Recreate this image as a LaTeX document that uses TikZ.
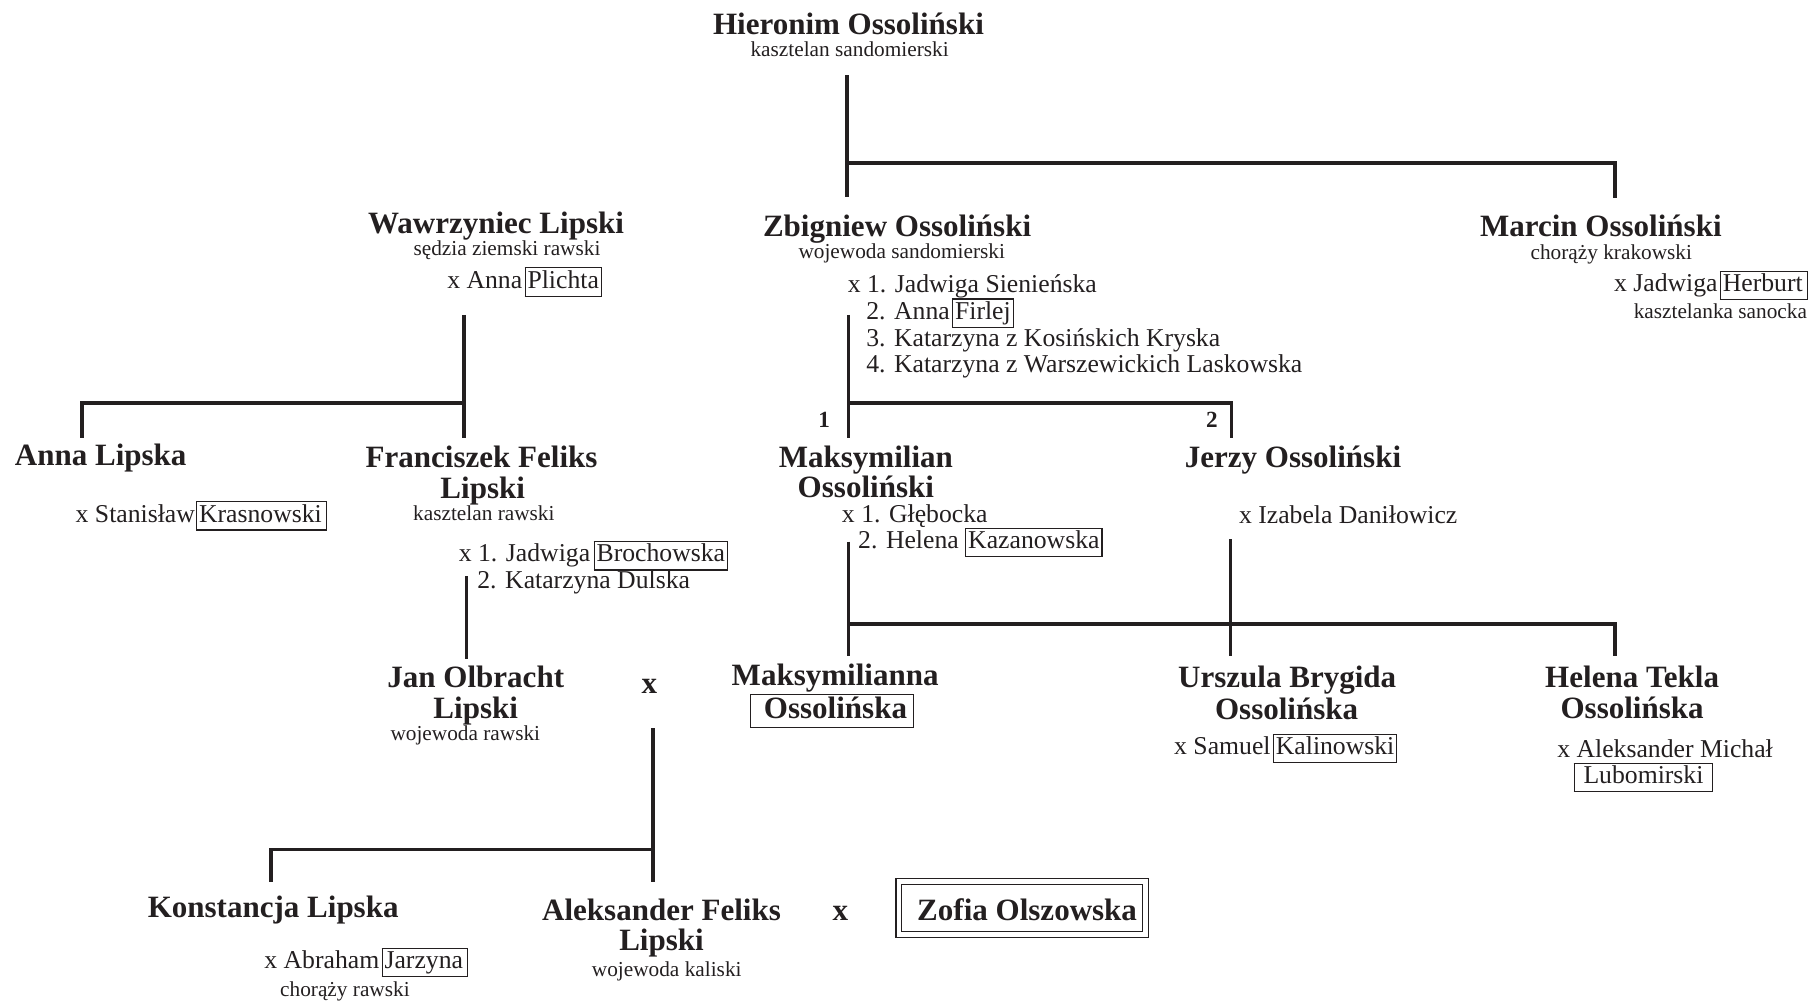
\documentclass[tikz,border=0pt]{standalone}
\usepackage{fontspec}
\setmainfont{Liberation Serif}
\definecolor{ink}{HTML}{231F20}
\newcommand\bx[1]{{\setlength\fboxsep{0.8pt}\setlength\fboxrule{0.5pt}\fbox{\rule[-2.4pt]{0pt}{10.2pt}#1}}}
\newcommand\bxb[1]{{\setlength\fboxsep{0.8pt}\setlength\fboxrule{0.5pt}\fbox{\hspace{4.7pt}#1\rule[-3pt]{0pt}{11.7pt}\hspace{1.9pt}}}}
\tikzset{
  pname/.style={font=\fontsize{13.4}{13.4}\selectfont\bfseries, inner sep=0pt, anchor=base},
  ptitle/.style={font=\fontsize{9.2}{10}\selectfont, inner sep=0pt, anchor=base},
  ptext/.style={font=\fontsize{11.1}{12}\selectfont, inner sep=0pt, anchor=base west},
  pnum/.style={font=\fontsize{10}{10}\selectfont\bfseries, inner sep=0pt, anchor=base},
  tree/.style={line width=1.6pt, draw=ink},
}
\begin{document}
\begin{tikzpicture}[x=0.5pt,y=-0.5pt,text=ink]
\useasboundingbox (0,0) rectangle (1568,867);

% ---------- Generation 1
\node[pname] (hier) at (733,30) {Hieronim Ossoliński};
\node[ptitle] (hiert) at (734,48.5) {kasztelan sandomierski};

% ---------- Generation 2
\node[pname] (zbig) at (775,204.5) {Zbigniew Ossoliński};
\node[ptitle] (zbigt) at (779,223.5) {wojewoda sandomierski};
\node[ptext] (zbm1) at (732,253) {x 1. Jadwiga Sienieńska};
\node[ptext] (zbm2) at (748,276) {2. Anna\hspace{1pt}\bx{Firlej}};
\node[ptext] (zbm3) at (748,299.5) {3. Katarzyna z Kosińskich Kryska};
\node[ptext] (zbm4) at (748,322) {4. Katarzyna z Warszewickich Laskowska};

\node[pname] (marc) at (1383,204) {Marcin Ossoliński};
\node[ptitle] (marct) at (1392,224.5) {chorąży krakowski};
\node[ptext] (marcm) at (1394,252) {x Jadwiga\hspace{1pt}\bx{Herburt\hspace{1pt}}};
\node[ptitle, anchor=base west] (marcmt) at (1411,275) {kasztelanka sanocka};

\node[pname] (wawr) at (428.5,202) {Wawrzyniec Lipski};
\node[ptitle] (wawrt) at (438,220.5) {sędzia ziemski rawski};
\node[ptext] (wawrm) at (386,249) {x Anna\hspace{1pt}\bx{Plichta}};

% ---------- Generation 3
\node[pname] (anna) at (87,402) {Anna Lipska};
\node[ptext] (annam) at (65,451) {x Stanisław\hspace{0.5pt}\bx{Krasnowski\hspace{1pt}}};

\node[pname] (fran1) at (416,403.5) {Franciszek Feliks};
\node[pname] (fran2) at (417,430.5) {Lipski};
\node[ptitle] (frant) at (418,449.5) {kasztelan rawski};
\node[ptext] (franm1) at (396,485.5) {x 1. Jadwiga\hspace{1.5pt}\bx{Brochowska}};
\node[ptext] (franm2) at (412,508) {2. Katarzyna Dulska};

\node[pnum] (n1) at (712,369) {1};
\node[pnum] (n2) at (1047,369) {2};

\node[pname] (maks1) at (748,403.5) {Maksymilian};
\node[pname] (maks2) at (748,429.5) {Ossoliński};
\node[ptext] (maksm1) at (727,451) {x 1. Głębocka};
\node[ptext] (maksm2) at (741,474) {2. Helena \bx{Kazanowska}};

\node[pname] (jerzy) at (1117,403.5) {Jerzy Ossoliński};
\node[ptext] (jerzym) at (1070,452) {x Izabela Daniłowicz};

% ---------- Generation 4
\node[pname] (jan1) at (411,594) {Jan Olbracht};
\node[pname] (jan2) at (411,620.5) {Lipski};
\node[ptitle] (jant) at (402,639.5) {wojewoda rawski};
\node[pname] (janx) at (561,599) {x};

\node[pname] (mna1) at (721.5,592) {Maksymilianna};
\node[pname] (mna2) at (719,620.5) {\bxb{Ossolińska}};

\node[pname] (ursz1) at (1112,593.5) {Urszula Brygida};
\node[pname] (ursz2) at (1111.5,622) {Ossolińska};
\node[ptext] (urszm) at (1014,652) {x Samuel\hspace{1pt}\bx{Kalinowski}};

\node[pname] (hel1) at (1410,593.5) {Helena Tekla};
\node[pname] (hel2) at (1410,620.5) {Ossolińska};
\node[ptext] (helm1) at (1345,654) {x Aleksander Michał};
\node[ptext] (helm2) at (1359,677) {\bx{\hspace{3pt}Lubomirski\hspace{3pt}}};

% ---------- Generation 5
\node[pname] (kons) at (236,793) {Konstancja Lipska};
\node[ptext] (konsm) at (228,837) {x Abraham\hspace{1pt}\bx{Jarzyna\hspace{1pt}}};
\node[ptitle] (konsmt) at (298,860.5) {chorąży rawski};

\node[pname] (alek1) at (571.5,795) {Aleksander Feliks};
\node[pname] (alek2) at (571.5,821) {Lipski};
\node[ptitle] (alekt) at (576,844) {wojewoda kaliski};
\node[pname] (alekx) at (726,795) {x};

\node[draw=ink, line width=0.5pt, double=white, double distance=2pt,
      minimum width=106.5pt, minimum height=22.9pt, inner sep=0pt] (zofiabox) at (883,784.4) {};
\node[pname, anchor=base west] (zofia) at (792,795) {Zofia Olszowska};

% ---------- Connectors
\coordinate (c-h-top) at (732,65);
\coordinate (c-h-bot) at (732,170);
\coordinate (c-h-j) at (732,141);
\coordinate (c-m-top) at (1395,171);
\draw[tree] (c-h-top) -- (c-h-bot);
\draw[tree] (c-h-j) -| (c-m-top);

\coordinate (c-w-top) at (401,272);
\coordinate (c-w-bot) at (401,378);
\coordinate (c-w-j) at (401,348);
\coordinate (c-a-top) at (71,378);
\draw[tree] (c-w-top) -- (c-w-bot);
\draw[tree] (c-w-j) -| (c-a-top);

\coordinate (c-z-top) at (733,272);
\coordinate (c-z-bot) at (733,378);
\coordinate (c-z-j) at (733,348);
\coordinate (c-j-top) at (1064,378);
\draw[tree] (c-z-top) -- (c-z-bot);
\draw[tree] (c-z-j) -| (c-j-top);

\coordinate (c-f-top) at (403,498);
\coordinate (c-f-bot) at (403,569);
\draw[tree] (c-f-top) -- (c-f-bot);

\coordinate (c-x-top) at (564,629);
\coordinate (c-x-bot) at (564,762);
\coordinate (c-x-j) at (564,734);
\coordinate (c-k-top) at (234,762);
\draw[tree] (c-x-top) -- (c-x-bot);
\draw[tree] (c-x-j) -| (c-k-top);

\coordinate (c-mk-top) at (733,468);
\coordinate (c-mk-bot) at (733,567);
\coordinate (c-mk-j) at (733,539);
\coordinate (c-hl-top) at (1395,567);
\coordinate (c-jz-top) at (1063,466);
\coordinate (c-jz-bot) at (1063,567);
\draw[tree] (c-mk-top) -- (c-mk-bot);
\draw[tree] (c-mk-j) -| (c-hl-top);
\draw[tree] (c-jz-top) -- (c-jz-bot);
\end{tikzpicture}
\end{document}
